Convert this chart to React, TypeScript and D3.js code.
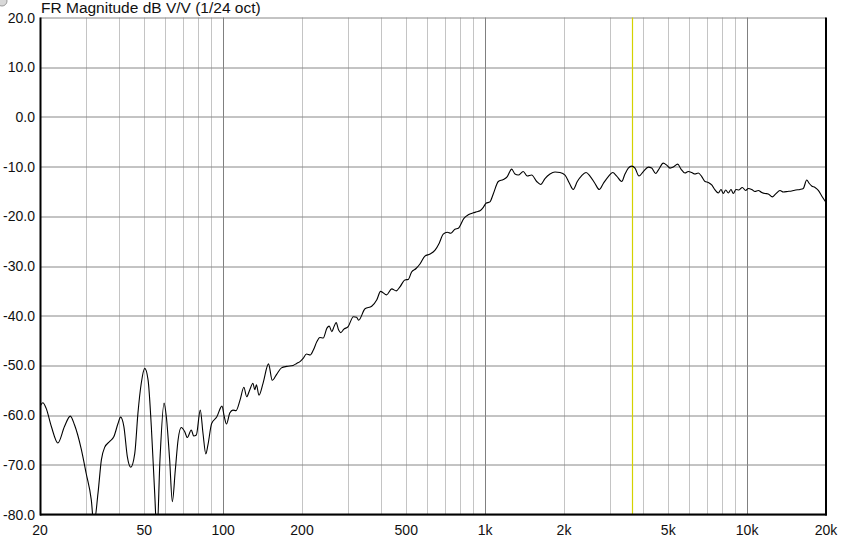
import React, { useEffect, useRef } from 'react';
import * as d3 from 'd3';

// frequency (Hz) / magnitude (dB)
const FREQ = [
  20, 20.5, 21.1, 22.1, 23.4, 24.8, 26.1, 27.1, 28.7, 30.0, 31.4, 32.1, 33.3, 34.3, 35.3, 36.9,
  38.3, 39.7, 40.6, 41.8, 43.1, 44.4, 46.0, 47.3, 48.7, 50.2, 51.7, 53.2, 54.8, 55.9, 57.4, 59.5,
  60.7, 62.5, 64.0, 65.7, 67.3, 69.2, 71.3, 73.0, 75.6, 77.2, 79.0, 81.8, 83.8, 85.9, 87.5, 90.4,
  94.5, 99.0, 101, 103, 106, 109, 112, 116, 120, 123, 126, 130, 132, 134, 137, 142,
  149, 154, 160, 167, 175, 185, 191, 197, 202, 208, 215, 221, 228, 234, 241, 249,
  254, 260, 265, 270, 276, 281, 289, 300, 314, 323, 329, 348, 369, 386, 399, 421,
  440, 458, 473, 494, 509, 524, 545, 564, 589, 616, 644, 668, 692, 717, 739, 767,
  790, 830, 862, 901, 928, 956, 984, 1007, 1043, 1074, 1123, 1173, 1215, 1263, 1300, 1338,
  1398, 1448, 1505, 1573, 1629, 1692, 1768, 1848, 1931, 2018, 2095, 2170, 2248, 2337, 2427, 2513,
  2626, 2727, 2825, 2952, 3068, 3178, 3321, 3418, 3519, 3626, 3732, 3866, 4015, 4195, 4322, 4477,
  4581, 4787, 4932, 5077, 5226, 5432, 5592, 5792, 5962, 6143, 6325, 6510, 6709, 6906, 7110, 7326,
  7542, 7764, 7950, 8112, 8285, 8477, 8679, 8856, 9068, 9310, 9584, 9875, 10102, 10408, 10716, 11031,
  11366, 11701, 12044, 12475, 12854, 13350, 13742, 14284, 14795, 15323, 15913, 16382, 16880, 17270, 17639, 18159,
  18693, 19261, 20000,
];

const MAG_DB = [
  -58.3, -57.5, -58.6, -62.3, -65.6, -62.3, -60.2, -62.0, -66.7, -71.7, -77.1, -82.0, -75.7, -69.0, -66.5, -65.3,
  -64.3, -61.7, -60.4, -62.3, -68.4, -70.5, -67.7, -59.6, -53.6, -50.6, -52.9, -62.3, -75.7, -84.0, -69.0, -57.6,
  -60.3, -69.0, -77.4, -71.0, -65.0, -62.5, -63.3, -64.5, -63.0, -64.2, -64.0, -59.0, -63.7, -67.8, -66.0, -61.7,
  -60.4, -58.2, -60.3, -61.8, -59.6, -59.0, -59.1, -57.0, -54.4, -56.3, -55.1, -53.6, -54.9, -53.9, -56.0, -53.6,
  -49.7, -53.0, -51.8, -50.5, -50.2, -50.0, -49.6, -49.2, -48.6, -47.7, -47.9, -46.9, -45.2, -44.4, -44.5, -42.5,
  -42.1, -43.2, -42.2, -41.4, -42.9, -43.4, -42.7, -42.2, -40.2, -40.3, -40.9, -38.6, -38.1, -36.8, -35.1, -35.8,
  -34.6, -35.0, -34.2, -32.8, -32.7, -31.2, -30.5, -29.6, -28.0, -27.6, -26.8, -25.4, -23.6, -23.2, -23.4, -22.6,
  -22.4, -20.4, -19.7, -19.3, -19.1, -18.9, -18.2, -17.4, -17.1, -15.5, -13.0, -12.6, -12.0, -10.5, -11.5, -11.7,
  -11.0, -11.9, -11.7, -13.0, -13.6, -12.4, -11.5, -11.1, -11.2, -11.7, -13.3, -14.6, -13.0, -11.8, -11.2, -11.9,
  -13.4, -14.6, -13.4, -12.0, -11.2, -11.9, -13.0, -11.5, -10.3, -9.9, -10.3, -11.9, -11.0, -10.1, -10.3, -11.4,
  -10.7, -9.3, -9.7, -10.3, -10.1, -9.5, -10.5, -11.3, -11.0, -11.2, -11.5, -11.3, -12.0, -13.0, -13.2, -13.7,
  -14.7, -15.3, -14.6, -15.4, -14.7, -15.3, -14.6, -15.4, -14.6, -14.7, -14.2, -14.8, -14.4, -14.6, -15.0, -14.8,
  -15.2, -15.4, -15.5, -16.1, -15.5, -14.8, -15.1, -15.0, -14.9, -14.7, -14.6, -14.4, -12.7, -13.4, -13.9, -14.2,
  -14.8, -15.9, -17.2,
];

const X_TICKS = [20, 50, 100, 200, 500, 1000, 2000, 5000, 10000, 20000];
const X_TICK_LABELS = ['20', '50', '100', '200', '500', '1k', '2k', '5k', '10k', '20k'];
const MINOR_FREQS = [
  30, 40, 50, 60, 70, 80, 90,
  200, 300, 400, 500, 600, 700, 800, 900,
  2000, 3000, 4000, 5000, 6000, 7000, 8000, 9000,
];
const DECADE_FREQS = [100, 1000, 10000];
const Y_TICKS = [20, 10, 0, -10, -20, -30, -40, -50, -60, -70, -80];
const MARKER_FREQ = 3630;
const TITLE = 'FR Magnitude dB V/V (1/24 oct)';

const W = 842;
const H = 537;

const App: React.FC = () => {
  const svgRef = useRef<SVGSVGElement>(null);

  useEffect(() => {
    if (!svgRef.current) return;
    const svg = d3.select(svgRef.current);
    svg.selectAll('*').remove();

    const margin = { top: 17.5, right: 16, bottom: 22.5, left: 40 };
    const width = W - margin.left - margin.right;
    const height = H - margin.top - margin.bottom;
    const font = '"Liberation Sans", Arial, sans-serif';

    const x = d3.scaleLog().domain([20, 20000]).range([0, width]);
    const y = d3.scaleLinear().domain([-80, 20]).range([height, 0]);

    svg.append('rect').attr('width', W).attr('height', H).attr('fill', '#fff');

    // little window icon in the corner
    svg.append('circle')
      .attr('cx', 2).attr('cy', 1).attr('r', 5)
      .attr('fill', '#d8d8d8').attr('stroke', '#9a9a9a');

    svg.append('text')
      .attr('x', 41)
      .attr('y', 12.5)
      .style('font-family', font)
      .style('font-size', '15.5px')
      .style('fill', '#111')
      .text(TITLE);

    const g = svg.append('g').attr('transform', `translate(${margin.left},${margin.top})`);

    svg.append('defs').append('clipPath').attr('id', 'plot-clip')
      .append('rect').attr('width', width).attr('height', height);

    // vertical grid
    g.selectAll('.minor')
      .data(MINOR_FREQS)
      .enter().append('line')
      .attr('x1', d => Math.round(x(d)) + 0.5).attr('x2', d => Math.round(x(d)) + 0.5)
      .attr('y1', 0).attr('y2', height)
      .attr('stroke', '#c4c4c4').attr('stroke-width', 1);

    g.selectAll('.decade')
      .data(DECADE_FREQS)
      .enter().append('line')
      .attr('x1', d => Math.round(x(d)) + 0.5).attr('x2', d => Math.round(x(d)) + 0.5)
      .attr('y1', 0).attr('y2', height)
      .attr('stroke', '#808080').attr('stroke-width', 1);

    // horizontal grid
    g.selectAll('.hgrid')
      .data(Y_TICKS)
      .enter().append('line')
      .attr('x1', 0).attr('x2', width)
      .attr('y1', d => Math.round(y(d)) + 0.5).attr('y2', d => Math.round(y(d)) + 0.5)
      .attr('stroke', '#888').attr('stroke-width', 1);

    // marker
    g.append('line')
      .attr('x1', Math.round(x(MARKER_FREQ)) + 0.5).attr('x2', Math.round(x(MARKER_FREQ)) + 0.5)
      .attr('y1', 0).attr('y2', height)
      .attr('stroke', '#d4d200').attr('stroke-width', 1.2);

    // trace
    const pts = FREQ.map((f, i) => [f, MAG_DB[i]] as [number, number]);
    const line = d3.line<[number, number]>()
      .x(d => x(d[0]))
      .y(d => y(d[1]))
      .curve(d3.curveMonotoneX);

    g.append('path')
      .datum(pts)
      .attr('clip-path', 'url(#plot-clip)')
      .attr('d', line)
      .attr('fill', 'none')
      .attr('stroke', '#000')
      .attr('stroke-width', 1.1);

    // frame: left, bottom, right black
    g.append('line').attr('x1', 0.5).attr('x2', 0.5).attr('y1', 0).attr('y2', height + 1)
      .attr('stroke', '#000').attr('stroke-width', 2);
    g.append('line').attr('x1', 0).attr('x2', width + 1).attr('y1', height).attr('y2', height)
      .attr('stroke', '#000').attr('stroke-width', 2);
    g.append('line').attr('x1', width).attr('x2', width).attr('y1', 0).attr('y2', height + 1)
      .attr('stroke', '#000').attr('stroke-width', 2);

    // y labels
    g.selectAll('.ylab')
      .data(Y_TICKS)
      .enter().append('text')
      .attr('x', -5)
      .attr('y', d => y(d))
      .attr('dy', '0.36em')
      .style('text-anchor', 'end')
      .style('font-family', font)
      .style('font-size', '14px')
      .style('fill', '#111')
      .text(d => d.toFixed(1));

    // x labels
    g.selectAll('.xlab')
      .data(X_TICKS)
      .enter().append('text')
      .attr('x', d => x(d))
      .attr('y', height + 20.5)
      .style('text-anchor', 'middle')
      .style('font-family', font)
      .style('font-size', '14px')
      .style('fill', '#111')
      .text((d, i) => X_TICK_LABELS[i]);
  }, []);

  return (
    <div style={{ position: 'absolute', left: 0, top: 0 }}>
      <svg ref={svgRef} width={W} height={H} style={{ display: 'block' }}></svg>
    </div>
  );
};

export default App;
